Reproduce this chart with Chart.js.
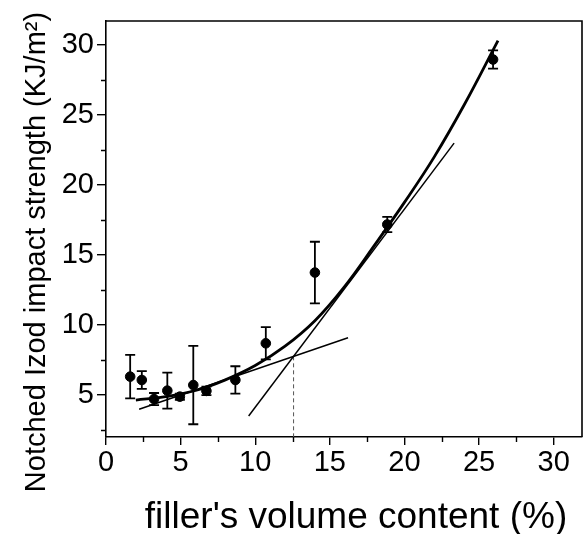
<!DOCTYPE html>
<html>
<head>
<meta charset="utf-8">
<script src="https://cdn.jsdelivr.net/npm/chart.js@4"></script>
<style>
  html, body { margin: 0; padding: 0; background: #fff; }
  canvas { display: block; }
</style>
</head>
<body>
<canvas id="c" width="583" height="534"></canvas>
<script>
// ---- data ----
const xValues = [1.62, 2.4, 3.22, 4.11, 4.95, 5.85, 6.73, 8.67, 10.71, 14.0, 18.85, 25.94];
const yValues = [6.31, 6.07, 4.71, 5.31, 4.88, 5.71, 5.29, 6.07, 8.69, 13.74, 17.17, 28.95];
const yErrors = [1.55, 0.63, 0.43, 1.28, 0.22, 2.8, 0.3, 0.98, 1.15, 2.2, 0.55, 0.65];

const fitX = [2, 4, 6, 8, 10, 12, 14, 16, 18, 20, 22, 24, 26.27];
const fitY = [4.64, 4.88, 5.32, 6.08, 7.1, 8.48, 10.3, 12.75, 15.7, 18.75, 22.0, 25.7, 30.3];

const lowLineX = [2.22, 16.22];
const lowLineY = [3.98, 9.09];
const steepLineX = [9.56, 23.33];
const steepLineY = [3.5, 22.98];
const dropX = [12.57, 12.57];
const dropY = [7.76, 2.0];

const xTicks = [0, 5, 10, 15, 20, 25, 30];
const xMinorTicks = [2.5, 7.5, 12.5, 17.5, 22.5, 27.5];
const yTicks = [5, 10, 15, 20, 25, 30];
const yMinorTicks = [2.5, 7.5, 12.5, 17.5, 22.5, 27.5];

const xTitle = "filler's volume content (%)";
const yTitle = "Notched Izod impact strength (KJ/m\u00B2)";

const FONT = '"Liberation Sans", Arial, Helvetica, sans-serif';
const toXY = (xs, ys) => xs.map((x, i) => ({x: x, y: ys[i]}));

const errorBarPlugin = {
  id: 'errorBars',
  beforeDatasetsDraw(chart) {
    const {ctx, scales: {x, y}} = chart;
    ctx.save();
    ctx.strokeStyle = '#000';
    ctx.lineWidth = 1.8;
    xValues.forEach((xv, i) => {
      const px = x.getPixelForValue(xv);
      const top = y.getPixelForValue(yValues[i] + yErrors[i]);
      const bot = y.getPixelForValue(yValues[i] - yErrors[i]);
      ctx.beginPath();
      ctx.moveTo(px, top); ctx.lineTo(px, bot);
      ctx.moveTo(px - 5, top); ctx.lineTo(px + 5, top);
      ctx.moveTo(px - 5, bot); ctx.lineTo(px + 5, bot);
      ctx.stroke();
    });
    ctx.restore();
  }
};

const framePlugin = {
  id: 'frame',
  afterDraw(chart) {
    const {ctx, chartArea: a, scales: {x, y}} = chart;
    ctx.save();
    ctx.strokeStyle = '#000';
    ctx.lineWidth = 1.6;
    ctx.beginPath();
    ctx.moveTo(a.left, a.top); ctx.lineTo(a.right, a.top); ctx.lineTo(a.right, a.bottom);
    ctx.stroke();
    // minor ticks
    ctx.lineWidth = 1.4;
    ctx.beginPath();
    xMinorTicks.forEach(v => {
      const px = Math.round(x.getPixelForValue(v)) + 0.5;
      ctx.moveTo(px, a.bottom); ctx.lineTo(px, a.bottom + 5);
    });
    yMinorTicks.forEach(v => {
      const py = Math.round(y.getPixelForValue(v)) + 0.5;
      ctx.moveTo(a.left, py); ctx.lineTo(a.left - 5, py);
    });
    ctx.stroke();
    // axis titles
    ctx.fillStyle = '#000';
    ctx.font = '37px ' + FONT;
    ctx.textAlign = 'center';
    ctx.textBaseline = 'alphabetic';
    ctx.fillText(xTitle, 356, 528);
    ctx.translate(45, 252);
    ctx.rotate(-Math.PI / 2);
    ctx.font = '29px ' + FONT;
    ctx.fillText(yTitle, 0, 0);
    ctx.restore();
  }
};

new Chart(document.getElementById('c'), {
  type: 'scatter',
  data: {
    datasets: [
      {
        label: 'data',
        data: toXY(xValues, yValues),
        backgroundColor: '#000',
        borderColor: '#000',
        pointRadius: 4.8,
        pointHoverRadius: 4.8,
        order: 0
      },
      {
        label: 'fit',
        data: toXY(fitX, fitY),
        showLine: true,
        borderColor: '#000',
        borderWidth: 2.8,
        pointRadius: 0,
        tension: 0.4,
        order: 1
      },
      {
        label: 'low tangent',
        data: toXY(lowLineX, lowLineY),
        showLine: true,
        borderColor: '#000',
        borderWidth: 1.5,
        pointRadius: 0,
        order: 2
      },
      {
        label: 'steep tangent',
        data: toXY(steepLineX, steepLineY),
        showLine: true,
        borderColor: '#000',
        borderWidth: 1.5,
        pointRadius: 0,
        order: 2
      },
      {
        label: 'drop',
        data: toXY(dropX, dropY),
        showLine: true,
        borderColor: '#555',
        borderWidth: 1,
        borderDash: [4, 3],
        pointRadius: 0,
        order: 3
      }
    ]
  },
  plugins: [errorBarPlugin, framePlugin],
  options: {
    responsive: false,
    animation: false,
    devicePixelRatio: 1,
    layout: { autoPadding: false, padding: { top: 21, right: 1, left: 0, bottom: 0 } },
    plugins: { legend: { display: false }, tooltip: { enabled: false } },
    scales: {
      x: {
        type: 'linear',
        min: 0,
        max: 31.9,
        afterFit: s => { s.height = 97; s.paddingLeft = 0; s.paddingRight = 0; },
        afterBuildTicks: s => { s.ticks = xTicks.map(v => ({value: v})); },
        border: { display: true, color: '#000', width: 1.6 },
        grid: { display: true, drawOnChartArea: false, drawTicks: true, tickLength: 8, color: '#000', lineWidth: 1.4 },
        ticks: { color: '#000', font: { family: FONT, size: 29 }, padding: 1, maxRotation: 0, autoSkip: false }
      },
      y: {
        type: 'linear',
        min: 2.0,
        max: 31.7,
        afterFit: s => { s.width = 106; s.paddingTop = 0; s.paddingBottom = 0; },
        afterBuildTicks: s => { s.ticks = yTicks.map(v => ({value: v})); },
        border: { display: true, color: '#000', width: 1.6 },
        grid: { display: true, drawOnChartArea: false, drawTicks: true, tickLength: 9, color: '#000', lineWidth: 1.4 },
        ticks: { color: '#000', font: { family: FONT, size: 29 }, padding: 3, autoSkip: false }
      }
    }
  }
});
</script>
</body>
</html>
